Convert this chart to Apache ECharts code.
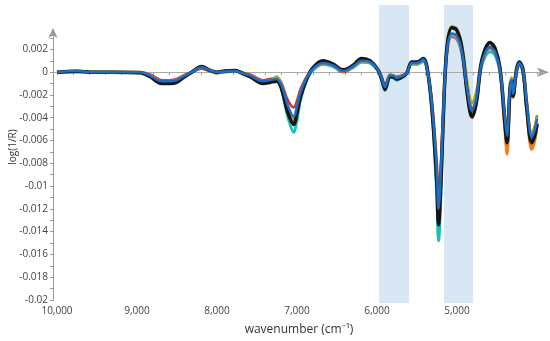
<!DOCTYPE html>
<html>
<head>
<meta charset="utf-8">
<script src="https://cdn.jsdelivr.net/npm/echarts@6/dist/echarts.min.js"></script>
<style>html,body{margin:0;padding:0;background:#fff}#c{width:550px;height:341px}</style>
</head>
<body>
<div id="c"></div>
<script>
// wavenumber (cm-1) sample positions
const wavenumbers = [10000, 9750, 9587, 8962, 8837, 8691, 8587, 8504, 8425, 8316, 8191, 8100, 8004, 7900, 7775, 7675, 7587, 7425, 7337, 7254, 7212, 7175, 7112, 7040, 7000, 6962, 6879, 6800, 6675, 6550, 6425, 6300, 6191, 6087, 5987, 5937, 5900, 5837, 5800, 5754, 5700, 5629, 5566, 5504, 5462, 5425, 5379, 5316, 5254, 5231, 5200, 5175, 5129, 5066, 5004, 4941, 4879, 4837, 4812, 4754, 4691, 4587, 4525, 4462, 4400, 4375, 4337, 4316, 4300, 4254, 4221, 4175, 4129, 4066, 4025, 4000];

const spectrumCyan = [0, 0.0001, 0, 0, -0.0003, -0.0009, -0.0009, -0.0007, -0.0004, 0,
  0.0004, 0.0002, 0, 0.00005, 0.0001, -0.0001, -0.0003, -0.0009, -0.0008, -0.0007,
  -0.0011, -0.0020, -0.0040, -0.0053, -0.0042, -0.0026, -0.0007, 0.0002, 0.0007, 0.0005,
  0.0001, 0.0004, 0.0009, 0.0008, 0.0001, -0.0008, -0.0016, -0.0004, -0.0005, -0.0007,
  -0.0005, -0.0001, 0.0007, 0.0007, 0.0008, 0.0010, 0.0004, -0.0030, -0.0105, -0.0148,
  -0.0105, -0.0050, 0.0014, 0.0032, 0.0030, 0.0017, -0.0013, -0.0032, -0.0036, -0.0023,
  0.0006, 0.0018, 0.0015, 0, -0.0048, -0.0066, -0.0016, -0.0009, -0.0022, 0,
  0.0006, 0, -0.0032, -0.0064, -0.0057, -0.0046];

const spectrumOrange = [0, 0.0001, 0, 0, -0.0003, -0.0008, -0.0008, -0.0007, -0.0004, 0,
  0.0004, 0.0002, 0, 0.00005, 0.0001, -0.0001, -0.0003, -0.0008, -0.0007, -0.0006,
  -0.0010, -0.0017, -0.0033, -0.0042, -0.0032, -0.0020, -0.0005, 0.0003, 0.0008, 0.0006,
  0.0001, 0.0005, 0.0010, 0.0009, 0.0002, -0.0006, -0.0013, -0.0003, -0.0003, -0.0005,
  -0.0004, -0.0001, 0.0009, 0.0008, 0.0009, 0.0011, 0.0006, -0.0026, -0.0088, -0.0125,
  -0.0088, -0.0042, 0.0016, 0.0033, 0.0031, 0.0018, -0.0014, -0.0035, -0.0040, -0.0025,
  0.0007, 0.0022, 0.0018, 0.0002, -0.0052, -0.0072, -0.0018, -0.0009, -0.0022, 0.0001,
  0.0007, 0.0001, -0.0031, -0.0068, -0.0059, -0.0047];

const spectrumOlive = [0, 0.00012, 0, 0, -0.0004, -0.0010, -0.0009, -0.0008, -0.0004, 0,
  0.0005, 0.0002, -0.0001, 0.0001, 0.0001, -0.0002, -0.0004, -0.0010, -0.0008, -0.0004,
  -0.0008, -0.0016, -0.0033, -0.0044, -0.0033, -0.0021, -0.0005, 0.0003, 0.0008, 0.0006,
  0.0001, 0.0005, 0.0010, 0.0009, 0.0002, -0.0006, -0.0013, -0.0003, -0.0003, -0.0005,
  -0.0004, -0.0001, 0.0008, 0.0008, 0.0009, 0.0011, 0.0005, -0.0028, -0.0092, -0.0130,
  -0.0092, -0.0044, 0.0020, 0.0040, 0.0038, 0.0024, -0.0006, -0.0024, -0.0027, -0.0016,
  0.0009, 0.0023, 0.0019, 0.0004, -0.0040, -0.0054, -0.0010, -0.0005, -0.0015, 0.0004,
  0.0007, 0.0004, -0.0025, -0.0055, -0.0048, -0.0039];

const spectrumRed = [0, 0.0001, 0, 0, -0.0002, -0.0007, -0.0007, -0.0006, -0.0003, 0,
  0.0003, 0.0001, 0, 0, 0.00005, -0.0001, -0.0002, -0.0007, -0.0006, -0.0005,
  -0.0007, -0.0013, -0.0025, -0.0031, -0.0025, -0.0016, -0.0004, 0.0002, 0.0007, 0.0005,
  0, 0.0004, 0.0009, 0.0008, 0.0002, -0.0005, -0.0012, -0.0002, -0.0003, -0.0004,
  -0.0003, -0.0001, 0.0008, 0.0007, 0.0008, 0.0010, 0.0005, -0.0023, -0.0077, -0.0108,
  -0.0077, -0.0037, 0.0015, 0.0031, 0.0029, 0.0017, -0.0011, -0.0028, -0.0032, -0.0020,
  0.0007, 0.0021, 0.0017, 0.0002, -0.0038, -0.0052, -0.0012, -0.0007, -0.0018, 0.0002,
  0.0009, 0.0003, -0.0025, -0.0054, -0.0047, -0.0038];

const spectrumBlack = [0, 0.00005, 0, -0.00005, -0.0004, -0.0010, -0.0010, -0.0009, -0.0005, 0,
  0.0005, 0.0002, 0, 0.0001, 0.00015, -0.0001, -0.0004, -0.0010, -0.0009, -0.0008,
  -0.0011, -0.0019, -0.0036, -0.0046, -0.0036, -0.0023, -0.0006, 0.0004, 0.0010, 0.0007,
  0.0002, 0.0006, 0.0012, 0.0010, 0.0002, -0.0007, -0.0015, -0.0004, -0.0004, -0.0006,
  -0.0005, -0.0001, 0.0009, 0.0009, 0.0010, 0.0012, 0.0006, -0.0030, -0.0095, -0.0134,
  -0.0095, -0.0046, 0.0019, 0.0039, 0.0037, 0.0022, -0.0015, -0.0035, -0.0039, -0.0025,
  0.0010, 0.0026, 0.0021, 0.0003, -0.0046, -0.0062, -0.0015, -0.0008, -0.0021, 0.0003,
  0.0009, 0.0002, -0.0031, -0.0062, -0.0055, -0.0045];

const spectrumBlue = [0, 0.0001, 0, 0, -0.0003, -0.0008, -0.0008, -0.0007, -0.0004, 0,
  0.00043, 0.0002, 0, 0.00005, 0.0001, -0.0001, -0.0003, -0.0008, -0.0007, -0.0006,
  -0.0009, -0.0015, -0.0030, -0.0039, -0.0030, -0.0019, -0.0005, 0.0003, 0.0008, 0.0006,
  0.0001, 0.0005, 0.0010, 0.0009, 0.0002, -0.0006, -0.0013, -0.0003, -0.0003, -0.0005,
  -0.0004, -0.0001, 0.0008, 0.0008, 0.0009, 0.0011, 0.0005, -0.0027, -0.0085, -0.0120,
  -0.0085, -0.0041, 0.0017, 0.0034, 0.0032, 0.0019, -0.0012, -0.0030, -0.0034, -0.0021,
  0.0008, 0.0022, 0.0018, 0.0002, -0.0041, -0.0056, -0.0013, -0.0007, -0.0019, 0.0002,
  0.0008, 0.0002, -0.0027, -0.0057, -0.0050, -0.0041];

// highlighted wavenumber bands [start, end]
const bands = [[5975, 5600], [5162, 4800]];

// axis ticks and labels
const xLabelValues = [10000, 9000, 8000, 7000, 6000, 5000];
const xTickValues = [10000, 9800, 9600, 9400, 9200, 9000, 8800, 8600, 8400, 8200, 8000, 7800, 7600, 7400, 7200, 7000, 6800, 6600, 6400, 6200, 6000, 5800, 5600, 5400, 5200, 5000, 4800, 4600, 4400, 4200, 4000];
const yLabelValues = [-0.02, -0.018, -0.016, -0.014, -0.012, -0.01, -0.008, -0.006, -0.004, -0.002, 0, 0.002];
const yTickValues = [-0.02, -0.019, -0.018, -0.017, -0.016, -0.015, -0.014, -0.013, -0.012, -0.011, -0.01, -0.009, -0.008, -0.007, -0.006, -0.005, -0.004, -0.003, -0.002, -0.001, 0, 0.001, 0.002, 0.003];

const spectra = [
  { name: 'red', values: spectrumRed, color: '#cf2e2e', width: 2.5 },
  { name: 'cyan', values: spectrumCyan, color: '#1bbfb5', width: 3 },
  { name: 'orange', values: spectrumOrange, color: '#f07d1e', width: 3 },
  { name: 'olive', values: spectrumOlive, color: '#a8a820', width: 3 },
  { name: 'black', values: spectrumBlack, color: '#141414', width: 3.5 },
  { name: 'blue', values: spectrumBlue, color: '#1f6cc8', width: 2.5 }
];

const chart = echarts.init(document.getElementById('c'), null, { renderer: 'canvas' });
const axisColor = '#999';
const labelFont = 'Open Sans';

const lineSeries = spectra.map((s, i) => ({
  type: 'line',
  name: s.name,
  xAxisIndex: 1,
  yAxisIndex: 1,
  data: wavenumbers.map((w, k) => [w, s.values[k]]),
  showSymbol: false,
  smooth: 0.35,
  clip: false,
  lineStyle: { color: s.color, width: s.width },
  z: 10 + i,
  silent: true,
  markLine: i === 0 ? {
    silent: true, symbol: ['none', 'none'], label: { show: false },
    lineStyle: { color: '#aaaaaa', width: 1, type: 'solid' },
    data: [{ yAxis: 0 }], z: 5
  } : undefined
}));

chart.setOption({
  animation: false,
  grid: [
    { left: 53, right: 5, top: 5, bottom: 38 },
    { left: 53, right: 5, top: 30, bottom: 38 }
  ],
  xAxis: [
    { gridIndex: 0, type: 'value', inverse: true, min: 3900, max: 10050, show: false },
    {
      gridIndex: 1, type: 'value', inverse: true, min: 3900, max: 10050,
      splitLine: { show: false },
      axisLine: { show: true, lineStyle: { color: axisColor, width: 1 }, symbol: ['none', 'arrow'], symbolSize: [7, 12], symbolOffset: [0, 4] },
      axisTick: { show: true, length: 3, lineStyle: { color: axisColor }, customValues: xTickValues },
      axisLabel: { customValues: xLabelValues, color: '#444', fontFamily: labelFont, fontSize: 10, margin: 6 },
      name: 'wavenumber (cm⁻¹)', nameLocation: 'middle', nameGap: 24,
      nameTextStyle: { color: '#333', fontFamily: labelFont, fontSize: 12 }
    }
  ],
  yAxis: [
    { gridIndex: 0, type: 'value', min: 0, max: 1, show: false },
    {
      gridIndex: 1, type: 'value', min: -0.02, max: 0.0037,
      splitLine: { show: false },
      axisLine: { show: true, lineStyle: { color: axisColor, width: 1 }, symbol: ['none', 'arrow'], symbolSize: [7, 10], symbolOffset: [0, 2] },
      axisTick: { show: true, length: 3, lineStyle: { color: axisColor }, customValues: yTickValues },
      axisLabel: {
        customValues: yLabelValues, color: '#444', fontFamily: labelFont, fontSize: 10, margin: 5,
        formatter: v => String(parseFloat(Number(v).toFixed(4)))
      }
    }
  ],
  graphic: [{
    type: 'text', x: 13, y: 147, rotation: Math.PI / 2,
    style: { text: 'log(1/R)', fill: '#333', font: '10px "Open Sans"', align: 'center', verticalAlign: 'middle' },
    z: 100
  }],
  series: [
    {
      type: 'custom', xAxisIndex: 0, yAxisIndex: 0, z: 1, silent: true,
      data: bands,
      encode: { x: [0, 1] },
      renderItem: function (params, api) {
        const p1 = api.coord([api.value(0), 1]);
        const p2 = api.coord([api.value(1), 0]);
        return {
          type: 'rect',
          shape: { x: Math.min(p1[0], p2[0]), y: p1[1], width: Math.abs(p2[0] - p1[0]), height: p2[1] - p1[1] },
          style: { fill: '#d9e7f5' }
        };
      }
    }
  ].concat(lineSeries)
});
</script>
</body>
</html>
